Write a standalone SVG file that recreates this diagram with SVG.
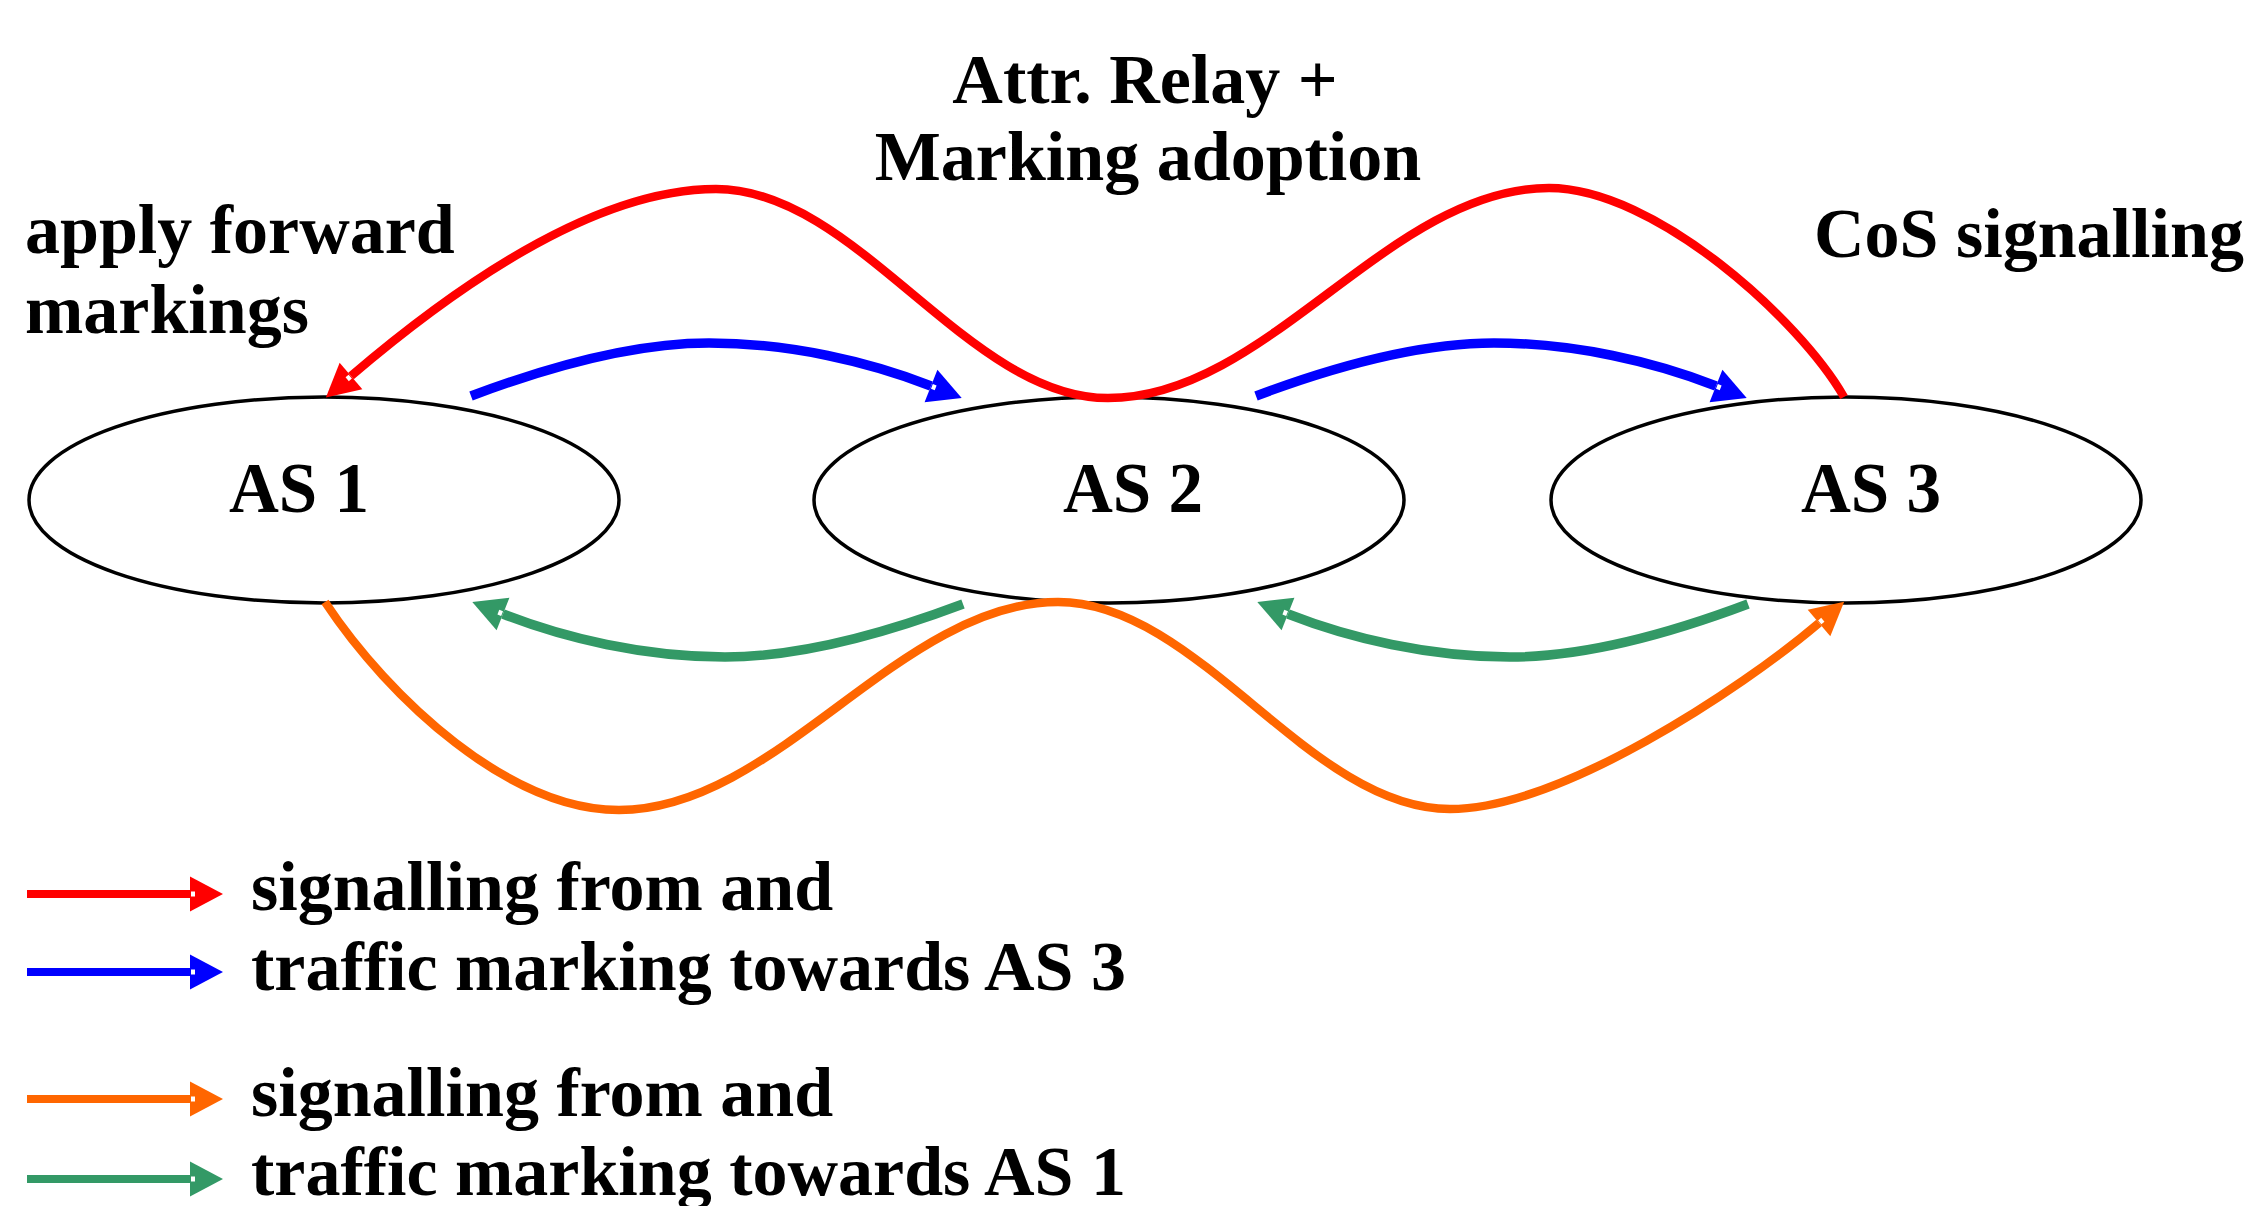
<svg xmlns="http://www.w3.org/2000/svg" width="2256" height="1206" viewBox="0 0 2256 1206">
<style>
.t{font-family:"Liberation Serif","Times New Roman",serif;font-weight:bold;font-size:70px;fill:#000}
.as{font-size:72px}
.node{fill:#fff;stroke:#000;stroke-width:3.5}
.c{fill:none;stroke-linecap:butt;stroke-linejoin:round}
.red{stroke:#ff0000;stroke-width:8.5}
.blue{stroke:#0000ff;stroke-width:9.5}
.green{stroke:#339966;stroke-width:9.5}
.orange{stroke:#ff6600;stroke-width:8.5}
.lg{stroke-width:8}
</style>
<defs>
<marker id="mr" markerUnits="userSpaceOnUse" markerWidth="34" markerHeight="35" refX="0" refY="17.5" orient="auto" overflow="visible"><path d="M0,0 L33,17.5 L0,35 Z" fill="#ff0000"/><rect x="1" y="15" width="4" height="5" fill="#fff"/></marker>
<marker id="mb" markerUnits="userSpaceOnUse" markerWidth="34" markerHeight="35" refX="0" refY="17.5" orient="auto" overflow="visible"><path d="M0,0 L33,17.5 L0,35 Z" fill="#0000ff"/><rect x="1" y="15" width="4" height="5" fill="#fff"/></marker>
<marker id="mg" markerUnits="userSpaceOnUse" markerWidth="34" markerHeight="35" refX="0" refY="17.5" orient="auto" overflow="visible"><path d="M0,0 L33,17.5 L0,35 Z" fill="#339966"/><rect x="1" y="15" width="4" height="5" fill="#fff"/></marker>
<marker id="mo" markerUnits="userSpaceOnUse" markerWidth="34" markerHeight="35" refX="0" refY="17.5" orient="auto" overflow="visible"><path d="M0,0 L33,17.5 L0,35 Z" fill="#ff6600"/><rect x="1" y="15" width="4" height="5" fill="#fff"/></marker>
</defs>
<rect width="2256" height="1206" fill="#fff"/>
<g id="as1"><ellipse class="node" cx="324" cy="500" rx="295" ry="103"/><text class="t as" x="229" y="512" textLength="140" lengthAdjust="spacingAndGlyphs">AS 1</text></g>
<g id="as2"><ellipse class="node" cx="1109" cy="500" rx="295" ry="103"/><text class="t as" x="1063" y="512" textLength="140" lengthAdjust="spacingAndGlyphs">AS 2</text></g>
<g id="as3"><ellipse class="node" cx="1846" cy="500" rx="295" ry="103"/><text class="t as" x="1801" y="512" textLength="140" lengthAdjust="spacingAndGlyphs">AS 3</text></g>
<g id="connectors">
<path class="c red" marker-end="url(#mr)" d="M1844,397 C1800,320 1655,188 1549,188 C1389,188 1268,398 1108,398 C967,398 857,189 716,189 C586,189 440,300 351,376"/>
<path class="c blue" marker-end="url(#mb)" d="M471,396 C540,370 630,343 709,343 C790,343 870,362 931,386"/>
<path class="c blue" marker-end="url(#mb)" d="M1256,396 C1325,370 1415,343 1494,343 C1575,343 1655,362 1716,386"/>
<path class="c green" marker-end="url(#mg)" d="M963,604 C894,630 804,657 725,657 C644,657 564,638 503,614"/>
<path class="c green" marker-end="url(#mg)" d="M1748,604 C1679,630 1589,657 1510,657 C1429,657 1349,638 1288,614"/>
<path class="c orange" marker-end="url(#mo)" d="M325,602 C390,700 510,810 619,810 C777,810 900,602 1058,602 C1199,602 1309,809 1450,809 C1560,809 1740,690 1819,623"/>
</g>
<g id="labels">
<text class="t" x="1145" y="103" text-anchor="middle">Attr. Relay +</text>
<text class="t" x="1148" y="180" text-anchor="middle">Marking adoption</text>
<text class="t" x="25" y="253">apply forward</text>
<text class="t" x="25" y="333">markings</text>
<text class="t" x="1814" y="257">CoS signalling</text>
</g>
<g id="legend">
<path class="c red lg" marker-end="url(#mr)" d="M27,894 L190,894"/>
<path class="c blue lg" marker-end="url(#mb)" d="M27,972 L190,972"/>
<path class="c orange lg" marker-end="url(#mo)" d="M27,1099 L190,1099"/>
<path class="c green lg" marker-end="url(#mg)" d="M27,1179 L190,1179"/>
<text class="t" x="251" y="910">signalling from and</text>
<text class="t" x="251" y="990">traffic marking towards AS 3</text>
<text class="t" x="251" y="1116">signalling from and</text>
<text class="t" x="251" y="1195">traffic marking towards AS 1</text>
</g>
</svg>
